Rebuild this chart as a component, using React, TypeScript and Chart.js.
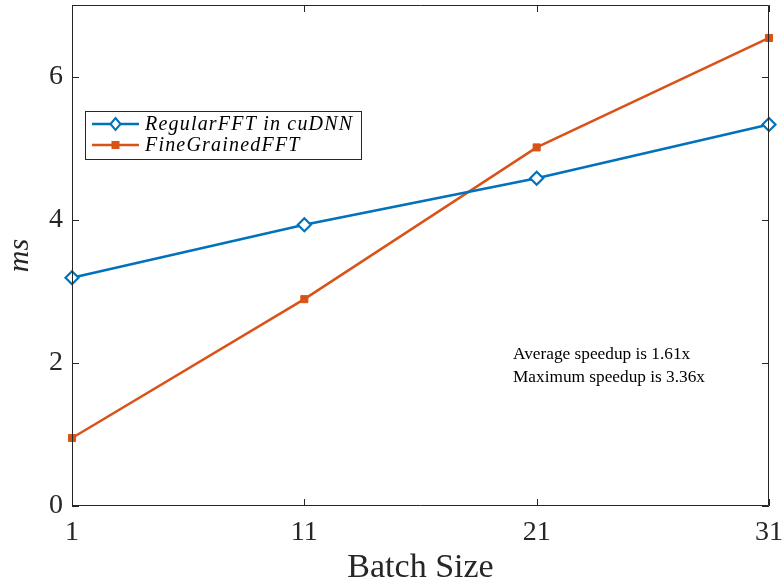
import React, { useEffect, useRef } from "react";
import { Chart, registerables } from "chart.js";

Chart.register(...registerables);

const batchSizes = [1, 11, 21, 31];
const regularFFT = [3.19, 3.93, 4.58, 5.33];
const fineGrainedFFT = [0.95, 2.89, 5.01, 6.54];
const xTicks = [1, 11, 21, 31];
const yTicks = [0, 2, 4, 6];
const seriesNames = ["RegularFFT in cuDNN", "FineGrainedFFT"];
const notes = ["Average speedup is 1.61x", "Maximum speedup is 3.36x"];

const BLUE = "#0072BD";
const ORANGE = "#D95319";
const AXIS = "#262626";
const SERIF = "'Liberation Serif', 'DejaVu Serif', serif";

const zeroPad = (s: any) => {
  s.paddingTop = 0;
  s.paddingBottom = 0;
  s.paddingLeft = 0;
  s.paddingRight = 0;
};

const framePlugin = {
  id: "frame",
  afterDraw(chart: any) {
    const { ctx, chartArea: a, scales } = chart;
    const xs = scales.x, ys = scales.y;
    ctx.save();
    ctx.strokeStyle = AXIS;
    ctx.lineWidth = 1;
    ctx.beginPath();
    ctx.rect(a.left + 0.5, a.top + 0.5, a.right - a.left - 1, a.bottom - a.top - 1);
    ctx.stroke();
    const tl = 7;
    ctx.beginPath();
    for (const v of yTicks) {
      const y = Math.round(ys.getPixelForValue(v)) + 0.5;
      ctx.moveTo(a.left, y); ctx.lineTo(a.left + tl, y);
      ctx.moveTo(a.right, y); ctx.lineTo(a.right - tl, y);
    }
    for (const v of xTicks) {
      const x = Math.round(xs.getPixelForValue(v)) + 0.5;
      ctx.moveTo(x, a.bottom); ctx.lineTo(x, a.bottom - tl);
      ctx.moveTo(x, a.top); ctx.lineTo(x, a.top + tl);
    }
    ctx.stroke();

    // legend
    const lx = 85, ly = 111, lw = 276, lh = 48;
    ctx.fillStyle = "#fff";
    ctx.fillRect(lx, ly, lw, lh);
    ctx.strokeStyle = AXIS;
    ctx.strokeRect(lx + 0.5, ly + 0.5, lw, lh);
    const rows = [
      { name: seriesNames[0], color: BLUE, y: 124, marker: "diamond" },
      { name: seriesNames[1], color: ORANGE, y: 145, marker: "square" },
    ];
    ctx.font = `italic 20px ${SERIF}`;
    (ctx as any).letterSpacing = "1.2px";
    ctx.textBaseline = "middle";
    ctx.textAlign = "left";
    for (const r of rows) {
      ctx.strokeStyle = r.color;
      ctx.lineWidth = 2.5;
      ctx.beginPath();
      ctx.moveTo(92, r.y); ctx.lineTo(139, r.y);
      ctx.stroke();
      const cx = 115.5;
      if (r.marker === "diamond") {
        ctx.fillStyle = "#fff";
        ctx.lineWidth = 2;
        ctx.beginPath();
        ctx.moveTo(cx, r.y - 6); ctx.lineTo(cx + 5, r.y); ctx.lineTo(cx, r.y + 6); ctx.lineTo(cx - 5, r.y); ctx.closePath();
        ctx.fill(); ctx.stroke();
      } else {
        ctx.fillStyle = r.color;
        ctx.fillRect(cx - 4, r.y - 4, 8, 8);
      }
      ctx.fillStyle = "#000";
      ctx.fillText(r.name, 145, r.y + 1);
    }
    (ctx as any).letterSpacing = "0px";

    // notes
    ctx.font = `17.3px ${SERIF}`;
    ctx.fillStyle = "#000";
    ctx.textBaseline = "alphabetic";
    ctx.fillText(notes[0], 513, 359);
    ctx.fillText(notes[1], 513, 382);
    ctx.restore();
  },
};

export default function App() {
  const ref = useRef<HTMLCanvasElement>(null);
  useEffect(() => {
    if (!ref.current) return;
    const chart = new Chart(ref.current, {
      type: "line",
      data: {
        datasets: [
          {
            label: seriesNames[0],
            data: batchSizes.map((x, i) => ({ x, y: regularFFT[i] })),
            borderColor: BLUE,
            backgroundColor: "#fff",
            borderWidth: 2.5,
            pointStyle: "rectRot",
            pointRadius: 6.5,
            pointBorderWidth: 2.2,
            pointBorderColor: BLUE,
            pointBackgroundColor: "#fff",
            tension: 0,
            clip: false,
          },
          {
            label: seriesNames[1],
            data: batchSizes.map((x, i) => ({ x, y: fineGrainedFFT[i] })),
            borderColor: ORANGE,
            backgroundColor: ORANGE,
            borderWidth: 2.5,
            pointStyle: "rect",
            pointRadius: 5,
            pointBorderWidth: 1,
            pointBorderColor: ORANGE,
            pointBackgroundColor: ORANGE,
            tension: 0,
            clip: false,
          },
        ],
      },
      options: {
        animation: false,
        responsive: false,
        maintainAspectRatio: false,
        layout: { autoPadding: false, padding: { top: 5, right: 14, left: 0, bottom: 0 } },
        plugins: { legend: { display: false }, tooltip: { enabled: false } },
        scales: {
          x: {
            type: "linear",
            min: 1,
            max: 31,
            afterBuildTicks: (s: any) => { s.ticks = xTicks.map((v) => ({ value: v })); },
            afterFit: (s: any) => { s.height = 78; zeroPad(s); },
            grid: { display: false, drawTicks: false },
            border: { display: false },
            ticks: { color: "#262626", font: { family: SERIF, size: 28 }, padding: 10, maxRotation: 0, autoSkip: false },
            title: { display: true, text: "Batch Size", color: "#262626", font: { family: SERIF, size: 34 }, padding: { top: 0, bottom: -4 } },
          },
          y: {
            type: "linear",
            min: 0,
            max: 7,
            afterBuildTicks: (s: any) => { s.ticks = yTicks.map((v) => ({ value: v })); },
            afterFit: (s: any) => { s.width = 72; zeroPad(s); },
            grid: { display: false, drawTicks: false },
            border: { display: false },
            ticks: { color: "#262626", font: { family: SERIF, size: 28 }, padding: 9 },
            title: { display: true, text: "ms", color: "#262626", font: { family: SERIF, size: 30, style: "italic" }, padding: { top: 2, bottom: 0 } },
          },
        },
      },
      plugins: [framePlugin],
    } as any);
    return () => chart.destroy();
  }, []);
  return (
    <div style={{ position: "fixed", left: 0, top: 0, width: 783, height: 584, background: "#fff" }}>
      <canvas ref={ref} width={783} height={584} style={{ width: 783, height: 584 }} />
    </div>
  );
}
